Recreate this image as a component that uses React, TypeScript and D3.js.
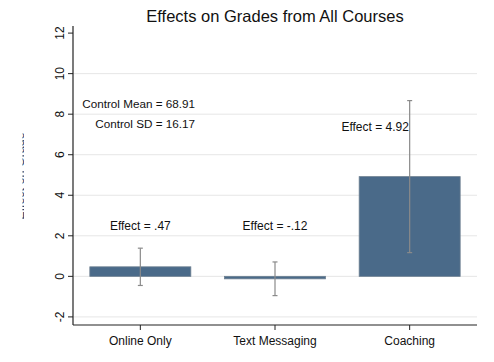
import * as d3 from "d3";

const categories = ["Online Only", "Text Messaging", "Coaching"];
const effects = [0.47, -0.12, 4.92];
const ciLow = [-0.45, -0.95, 1.17];
const ciHigh = [1.39, 0.71, 8.67];
const effectLabels = ["Effect = .47", "Effect = -.12", "Effect = 4.92"];
const labelY = [2.47, 2.47, 7.4];
const yTicks = [-2, 0, 2, 4, 6, 8, 10, 12];
const gridTicks = [-2, 0, 2, 4, 6, 8, 10];
const controlLines = ["Control Mean = 68.91", "Control SD = 16.17"];
const controlY = [8.5, 7.5];

const W = 494;
const H = 362;
const margin = { top: 26, right: 17, bottom: 37, left: 73 };
const font = "'Liberation Sans', Arial, Helvetica, sans-serif";

export default function App() {
    const x = d3
        .scaleBand<string>()
        .domain(categories)
        .range([margin.left, W - margin.right])
        .paddingInner(0.25)
        .paddingOuter(0.125);

    const y = d3
        .scaleLinear()
        .domain([-2.4, 12.35])
        .range([H - margin.bottom, margin.top]);

    const bottom = H - margin.bottom;
    const right = W - margin.right;

    return (
        <svg
            width={W}
            height={H}
            style={{ position: "absolute", left: 0, top: 0, background: "#fff" }}
            fontFamily={font}
        >
            <defs>
                <clipPath id="ylab">
                    <rect x={22.5} y={0} width={1.5} height={H} />
                </clipPath>
            </defs>
            <rect width={W} height={H} fill="#fff" />

            {/* gridlines */}
            {gridTicks.map((t) => (
                <line key={t} x1={margin.left} x2={right} y1={y(t)} y2={y(t)} stroke="#e6e6e6" strokeWidth={1} />
            ))}

            {/* bars */}
            {categories.map((c, i) => {
                const y0 = y(Math.max(0, effects[i]));
                const y1 = y(Math.min(0, effects[i]));
                return (
                    <rect
                        key={c}
                        x={x(c)!}
                        y={y0}
                        width={x.bandwidth()}
                        height={Math.max(y1 - y0, 2.5)}
                        fill="#4a6a89"
                        stroke="#6d7f90"
                        strokeWidth={0.8}
                    />
                );
            })}

            {/* error bars */}
            {categories.map((c, i) => {
                const cx = x(c)! + x.bandwidth() / 2;
                return (
                    <g key={c} stroke="#8a8a8a" strokeWidth={1.2}>
                        <line x1={cx} x2={cx} y1={y(ciLow[i])} y2={y(ciHigh[i])} />
                        <line x1={cx - 2.5} x2={cx + 2.5} y1={y(ciLow[i])} y2={y(ciLow[i])} />
                        <line x1={cx - 2.5} x2={cx + 2.5} y1={y(ciHigh[i])} y2={y(ciHigh[i])} />
                    </g>
                );
            })}

            {/* effect labels */}
            {categories.map((c, i) => (
                <text
                    key={c}
                    x={x(c)! + x.bandwidth() / 2 + (i === 2 ? -34.5 : 0)}
                    y={y(labelY[i])}
                    dy="0.35em"
                    textAnchor="middle"
                    fontSize={12}
                    fill="#111"
                >
                    {effectLabels[i]}
                </text>
            ))}

            {/* control annotations */}
            {controlLines.map((t, i) => (
                <text key={t} x={195} y={y(controlY[i])} dy="0.35em" textAnchor="end" fontSize={11.7} fill="#111">
                    {t}
                </text>
            ))}

            {/* axes */}
            <line x1={margin.left} x2={margin.left} y1={margin.top} y2={bottom} stroke="#222" strokeWidth={1.2} />
            <line x1={margin.left} x2={right} y1={bottom} y2={bottom} stroke="#222" strokeWidth={1.2} />
            {yTicks.map((t) => (
                <g key={t}>
                    <line x1={margin.left - 5} x2={margin.left} y1={y(t)} y2={y(t)} stroke="#222" strokeWidth={1} />
                    <text
                        transform={`translate(${margin.left - 9},${y(t)}) rotate(-90)`}
                        textAnchor="middle"
                        fontSize={12}
                        fill="#111"
                    >
                        {t}
                    </text>
                </g>
            ))}
            {categories.map((c) => {
                const cx = x(c)! + x.bandwidth() / 2;
                return (
                    <g key={c}>
                        <line x1={cx} x2={cx} y1={bottom} y2={bottom + 5} stroke="#222" strokeWidth={1} />
                        <text x={cx} y={bottom + 16} dy="0.35em" textAnchor="middle" fontSize={12} fill="#111">
                            {c}
                        </text>
                    </g>
                );
            })}

            {/* y axis title, mostly cut off */}
            <g clipPath="url(#ylab)">
                <text
                    transform={`translate(24.2,176) rotate(-90)`}
                    textAnchor="middle"
                    fontSize={12.5}
                    fill="#333"
                >
                    Effect on Grade
                </text>
            </g>

            <text x={(margin.left + right) / 2} y={16} dy="0.35em" textAnchor="middle" fontSize={16.5} fill="#111">
                Effects on Grades from All Courses
            </text>
        </svg>
    );
}
